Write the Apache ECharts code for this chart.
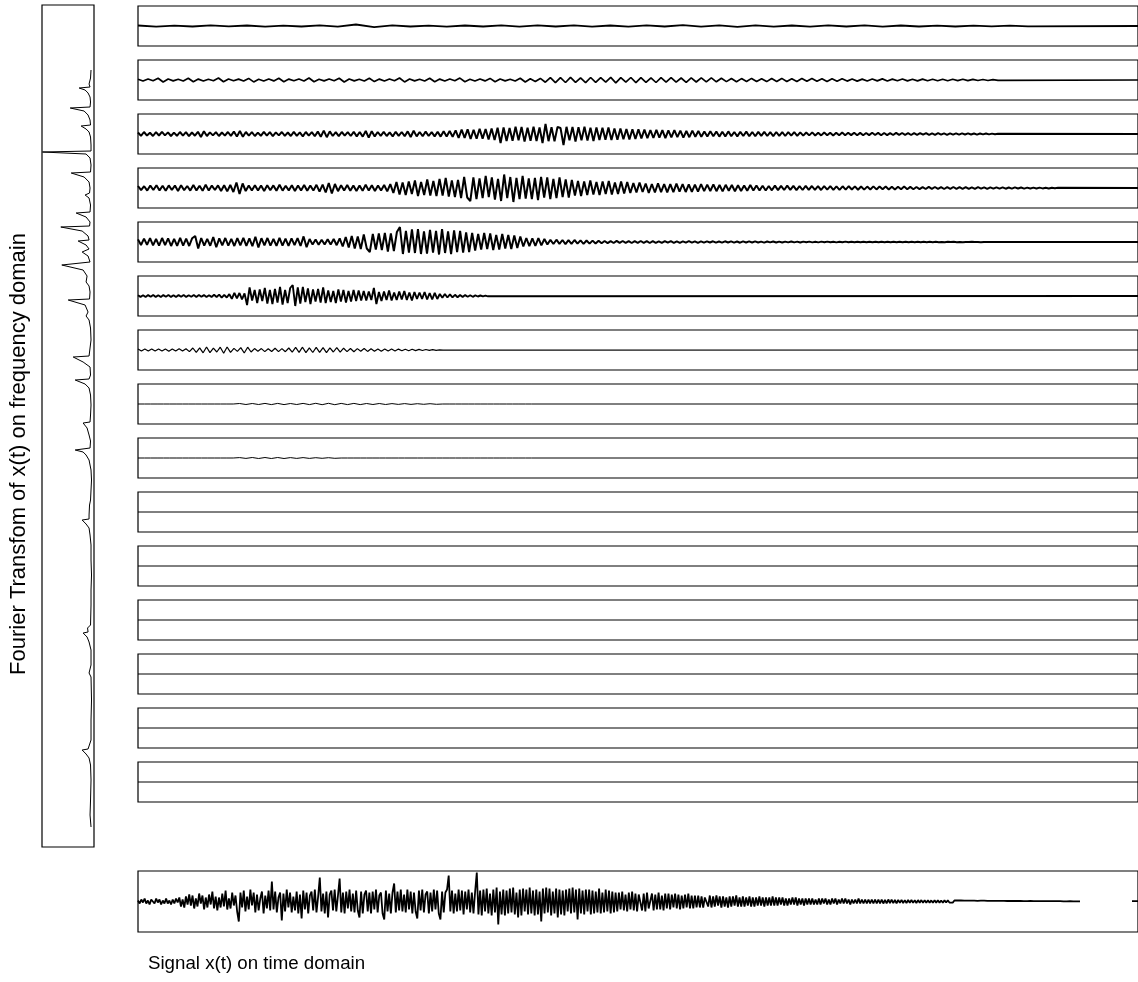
<!DOCTYPE html>
<html>
<head>
<meta charset="utf-8">
<script src="https://cdn.jsdelivr.net/npm/echarts@6/dist/echarts.min.js"></script>
<style>
  html, body { margin: 0; padding: 0; background: #fff; }
  #chart { width: 1138px; height: 982px; }
</style>
</head>
<body>
<div id="chart"></div>
<script>
// time axis of all panels (s), frequency axis of the spectrum (Hz)
const TIME_MAX = 100;
const FREQ_MAX = 42.1;

// band-filtered components, top (high frequency) to bottom, sampled evenly over [0, span]
const band1 = [0.5,-0.6,0.4,-0.5,0.7,-0.4,0.5,-0.6,0.4,-0.5,0.6,-0.7,1.5,-1.2,0.6,-0.5,0.4,-0.6,0.5,-0.5,0.6,-0.7,0.6,-0.5,0.7,-0.6,0.5,-0.7,0.6,-0.5,0.8,-0.6,0.7,-0.8,0.6,-0.7,0.5,-0.6,0.6,-0.5,0.7,-0.6,0.5,-0.5,0.4,-0.5,0.4,-0.3,0.3,-0.3];
const band2 = [0.8,-1,1,-0.8,1.8,-2,1,-0.9,0.8,-1,1.7,-1.8,0.9,-1,0.8,-0.7,2,-1.8,1,-0.8,
  0.9,-1,1.6,-1.9,0.8,-1,1,-0.9,1.8,-1.7,0.9,-0.8,1,-1,2,-1.8,0.8,-0.9,1,-0.8,
  1.7,-2,1,-0.9,0.8,-1,1.8,-1.6,0.9,-1,1,-0.8,2,-1.9,1,-0.9,0.8,-1,1.7,-1.8,
  0.9,-1,1,-0.8,1.9,-1.7,0.8,-1,1,-0.9,1.6,-1.8,1,-0.9,0.8,-1,1.8,-2,1.2,-1.4,1.6,
  -2.2,2.4,-2.6,2.3,-2.5,2.7,-2.4,2.2,-2.6,2.5,-2.3,2.4,-2.1,2.6,-2.8,2.4,-2.2,2.5,-2.6,2.3,
  -2.4,2.2,-2.5,2.3,-2.1,2.4,-2.2,2.0,-2.3,2.1,-2.0,2.2,-1.9,2.1,-1.8,
  1.7,-1.6,1.5,-1.7,1.4,-1.5,1.6,-1.4,1.3,-1.6,1.5,-1.4,1.6,-1.5,1.3,-1.4,1.5,-1.3,1.4,-1.2,1.3,-1.4,1.2,-1.3,1.2,-1.1,
  1.0,-1.1,0.9,-1.0,1.0,-0.9,1.1,-1.0,0.9,-0.8,1.0,-0.9,0.8,-0.9,0.9,-0.8,0.7,-0.8,0.8,-0.7,0.7,-0.6,0.7,-0.6,0.6,-0.5,0.5,-0.5,0.4,-0.3];
const band3 = [1.5,-1.8,2,-1.6,1.2,-2,1.8,-1.5,2.2,-1.4,1.6,-2,1.4,-1.8,2,-1.6,1.8,-2.2,1.5,-1.7,
  2.2,-3,2.8,-2,1.6,-1.4,1.8,-2,1.5,-1.6,2,-1.8,2.4,-2.6,3,-2.8,2,-1.6,1.8,-2,
  1.4,-1.8,2.2,-1.6,1.8,-2.2,1.6,-1.4,2,-1.8,1.5,-2,2.2,-1.8,1.6,-2.4,2,-1.6,1.8,-2.2,
  2.4,-2.8,3.4,-3.2,2.6,-2,1.8,-2.2,2,-1.6,1.8,-2,2.2,-2.4,2,-2.6,3,-3.6,2.8,-2.4,
  2,-1.8,2.2,-2,1.6,-2.4,2.2,-1.8,2,-2.2,2.6,-3,3.2,-2.4,2,-2.2,2.4,-2,1.8,-2.4,
  2.2,-2.6,2.8,-2.4,3,-2.8,
  3.6,-4,4.4,-3.8,4.6,-5,4.2,-4.8,5.2,-4.6,5,-5.6,5.4,-6,6.2,
  -9,6.5,-7,6,-6.8,7.2,-6.4,7,-7.6,6.2,-6.8,7.4,-7,6.6,-9,10,-7.2,6.8,-7.4,7,6,-11,
  7.2,-6.4,7,-7.6,6.8,-6.2,7.4,-6.6,6.4,-7,6.6,-6,6.2,-5.8,6.4,-6,5.6,-5.8,5.4,-5.2,
  5,-5.4,4.8,-5,4.6,-4.4,
  4.4,-4.2,3.8,-4,4.2,-3.6,3.8,-4.2,3.6,-3.4,3.8,-3.2,3.4,-3.6,3,-3.2,3.4,-2.8,3,-2.8,
  2.6,-2.4,2.8,-2.2,2.4,-2.6,2.2,-2.4,2.6,-2.2,2,-2.4,2.2,-2,2.4,-2.2,2,-2.3,2.1,-1.9,
  2.2,-2,1.8,-2.1,2,-1.8,1.9,-2,1.8,-1.7,1.9,-1.8,1.7,
  -1.6,1.5,-1.4,1.6,-1.5,1.3,-1.4,1.5,-1.3,1.2,-1.4,1.3,-1.2,1.4,-1.3,1.2,-1.1,1.3,-1.2,1.1,
  -1.2,1.0,-1.1,1.2,-1.0,1.1,-1.2,1.0,-1.1,0.9,-1.0,1.1,-0.9,
  1.0,-0.9,0.8,-1.0,0.9,-0.8,0.9,-0.7,0.8,-0.9,0.7,-0.8,0.8,-0.7,0.6,-0.8,0.7,-0.6,0.7,-0.6,
  0.6,-0.5,0.6,-0.5,0.5,-0.6,0.5,-0.4,0.5,-0.4,0.4,-0.3,0.3];
const band4 = [2,-2.2,1.8,-2.6,2.4,-2,2.8,-2.4,2.2,-2.8,2.6,-2,2.4,-3,2.8,-2.2,2,-2.6,3,-2.4,
  2.2,-2.8,3.2,-2.6,2.4,-2,2.6,-3,2.8,-3.4,3,-4,5.5,-6,4.5,-3,2.6,-2.4,2.8,-2.6,
  2.4,-3,2.8,-2.2,2.6,-2.8,3.2,-2.6,2.2,-2.4,2.8,-3,2.6,-2.4,3,-2.8,2.4,-2.6,3.2,-3.6,
  3.4,-4.5,5,-5.5,4,-3.2,2.8,-2.6,3,-2.8,2.6,-3,2.4,-2.8,3.2,-2.6,2.8,-3,2.6,-2.4,
  3,-3.4,3.8,
  -5,6,-6.5,5.5,-7,6.5,-6,7.5,-8,6,-7,8.5,-7.5,7,-8,9,-7.5,10,-8.5,7.5,-9,8,
  -10,11,-9.5,-13,10.5,-11,9.5,-10,12,-9,10.5,-11.5,9,-13,13.5,-10,11,-14,10,-11,
  12,-10.5,9.5,-11,10,-12,11,-9.5,10.5,-11,9,-10,10.5,-9,8.5,-9.5,
  8,-7.5,7,-8,6.5,-7,7.5,-6.5,6,-7,6.5,-6,7,-6.5,5.5,-6,6.5,-5.5,6,-5,
  5,-4.5,5.5,-4,4.5,-5,4,-4.5,4.8,-4.2,4,-4.4,3.8,-4.2,4.4,-3.6,3.8,-4,3.6,-3.8,
  3.4,-3.6,3.8,-3.2,3.4,-3,3.6,-3.2,3,-3.4,3.2,-2.8,3,-3.2,2.8,-3,2.6,-2.8,3,-2.6,
  2.6,-2.4,2.2,-2.5,2,-2.3,2.4,-2.1,2.2,-2,2.3,-1.9,2.1,-2.2,1.9,-2,2.1,-1.8,2,-1.9,
  1.8,-2,1.9,-1.7,1.8,-1.9,1.6,-1.8,1.7,-1.6,1.8,-1.5,1.6,-1.7,1.5,-1.6,1.4,-1.5,1.6,-1.4,
  1.5,-1.3,1.4,-1.5,1.3,-1.4,1.2,-1.3,1.4,-1.2,
  1.1,-1.2,1,-1.1,0.9,-1,1.1,-0.9,1,-0.9,0.9,-1,0.8,-0.9,1,-0.8,0.9,-0.8,0.8,-0.9,
  0.7,-0.8,0.8,-0.7,0.7,-0.8,0.6,-0.7,0.7,-0.6,0.6,-0.7,0.5,-0.6,0.6,-0.5,0.5,-0.6,0.4,-0.5,
  0.4,-0.5,0.4,-0.4,0.3,-0.4,0.3,-0.3,0.2];
const band5 = [2.6,-3,3.4,-2.8,3.8,-3.4,3,-3.6,4,-3.2,3.6,-4,3.2,-3.8,4.2,-3.6,3.4,-4,3.8,6,
  -6.5,4,-3.6,3.2,-3.8,5,-5.2,3.6,-3.4,4,-3.6,3.2,-4,3.8,-3.4,4.2,-3.8,3.6,-4.2,5.2,
  -5.4,3.8,-3.4,4,-3.6,3.2,-3.8,4.2,-3.6,3.4,-3.8,3.6,-3.2,3.8,
  -4,5.6,-5.2,3,-2.6,2.4,-2.8,2.2,-2.4,2.8,-2.6,3,-3.2,3.6,
  -4.5,5,-5.5,6,-6.5,5.5,-7,7.5,-6.5,-10,8,-7.5,8.5,-8,9,-9.5,8.5,-9,
  10,15,-12,11,-10.5,12.5,-11,13,-12,10.5,-11.5,12,-10.5,11,-12.5,13,-11,10.5,-12,11.5,
  -10,11,-10.5,9.5,-10,
  9,-8.5,8,-7.5,9,-7,8.5,-8,7,-7.5,8,-6.5,7,-7,6.5,-6,5.5,
  -4.5,4,-4.2,3.6,-4,3.8,-3.4,3,
  -2.4,2.2,-2,2.3,-1.8,2,-2.1,1.8,-1.9,2,-1.7,1.6,-1.8,1.5,-1.6,1.4,-1.5,1.3,
  -1.2,1,-1.1,0.9,-1,1.1,-0.9,1,-0.8,0.9,-1,0.8,-0.9,1,-0.8,0.9,-1,0.8,-0.9,0.7,
  -0.8,0.9,-0.7,0.8,-0.9,0.7,-0.8,0.6,-0.7,0.8,-0.6,0.7,-0.8,0.6,-0.7,0.6,-0.5,0.7,-0.6,0.5,
  -0.6,0.7,-0.5,0.6,-0.6,0.5,-0.7,0.6,-0.5,0.6,-0.5,0.6,-0.5,0.4,-0.6,0.5,-0.4,0.5,-0.5,0.4,
  -0.5,0.4,-0.4,0.5,-0.4,0.4,-0.5,0.4,-0.3,0.4,-0.4,0.3,-0.4,0.4,-0.3,0.4,-0.3,0.3,-0.4,0.3,
  -0.3,0.4,-0.3,0.3,-0.3,0.3,-0.2,0.3,-0.3,0.2,-0.3,0.2,-0.3,0.3,-0.2,0.3,-0.2,0.2,-0.3,0.2,
  -0.2,0.3,-0.2,0.2,-0.2,0.2,-0.3,0.2,-0.2,0.2,-0.2,0.2,-0.2,0.1,-0.2,0.2,-0.1,0.2,-0.2,0.1,
  -0.2,0.1,-0.1,0.2,-0.1,0.1,-0.2,0.1,-0.1,0.1,-0.1,0.1,-0.1,0.1,-0.1,0.1];
const band6 = [0.8,-0.9,0.7,-1,0.9,-0.8,1.1,-0.9,0.8,-1,0.9,-0.7,1,-0.9,0.8,-1.1,0.9,-0.8,1,-0.9,
  0.7,-0.8,1,-0.9,1.1,-0.8,0.9,-1,0.8,-0.9,1.2,-1,1.4,-1.6,1.2,-1.5,1.8,
  -2.8,3.2,-2.4,3,-3.4,2.6,-9,8.5,
  -4.5,6,-7,6.5,-5,8,-7.5,6,-8,7,-6.5,9,-8.5,6,-7,8,11,-10,8.5,-7.5,
  9,-6,7.5,-8,6.5,-5.5,7,-6.5,8.5,-7,5.5,-6,5,-7,6.5,-5.5,6,-6.5,5,-5.5,6,-5,5.5,-4.5,5,-4.5,
  4.5,-4,8,-8,4,-5,4.5,-4,5.5,-4.5,3.5,-4,4.5,-3.5,5,-4,3.5,-4.5,4,-3,3.5,-3,4,-3.5,3,-3.5,
  3.2,-3,2,-1.8,2,-1.5,1.6,-1.4,1.2,-1.3,1,-1.1,0.9,-0.8,0.7,-0.8,0.6,-0.5,0.5,-0.4,0.4,-0.3];
const band7 = [1,-1.1,1,-0.9,1.1,-1,0.9,-1.1,1,-1.2,1.1,-1,1.2,-1.1,1.3,
  -1.6,2,-2.4,2.2,-2.8,3,-2.6,1.8,-2,2.8,-3.2,3,-2.4,1.6,-1.4,2.4,-3,2.8,-2,1.4,
  -1.2,1.4,-1.6,1.3,-1.5,1.8,-1.6,1.4,-1.7,2,
  -2.2,2.6,-2.4,2.8,-2.6,2.2,-2.5,2.7,-2.3,2.4,-2.6,2.2,-2,2.4,-2.2,1.8,
  -1.6,1.5,-1.7,1.4,-1.3,1.5,-1.4,1.2,-1.3,1.1,-1.2,1,-1.1,0.9,-1,
  0.9,-0.8,0.8,-0.7,0.7,-0.6,0.6,-0.5,0.5,-0.4,0.4,-0.3,0.2,-0.1];
const band8 = [0,0,0,0,0,0,0,0,0,0,0,0,0,0,0,0,
  0.5,-0.5,0.5,-0.5,0.6,-0.6,0.6,-0.6,0.5,-0.5,0.6,-0.6,0.7,-0.7,0.7,-0.7,
  0.6,-0.6,0.6,-0.6,0.5,-0.5,0.5,-0.5,0.4,-0.4,0.4,-0.4,0.3,-0.3,0.3,-0.3,
  0,0,0,0,0,0,0,0,0,0,0,0,0,0,0,0];
const band9 = [0,0,0,0,0,0,0,0,0,0,0,0,0,0,0,0,
  0.4,-0.4,0.5,-0.5,0.5,-0.5,0.5,-0.5,0.4,-0.4,0.4,-0.4,0.3,-0.3,0.3,-0.3,
  0,0,0,0,0,0,0,0,0,0,0,0,0,0,0,0,
  0,0,0,0,0,0,0,0,0,0,0,0,0,0,0,0];
const band10 = [0, 0];
const band11 = [0, 0];
const band12 = [0, 0];
const band13 = [0, 0];
const band14 = [0, 0];
const band15 = [0, 0];
const bandSpans = [89, 86, 86, 92, 87, 35, 30.5, 40, 40, 100, 100, 100, 100, 100, 100];

// full signal x(t), sampled evenly over [0, signalSpan], plus the short piece at the end
const signal = [1,-2,2,-1,3,-2,1,-3,2,0,-2,3,-1,2,-3,1,-2,3,-2,1,
  -3,2,-2,3,-1,4,-5,2,-6,5,-3,7,-4,6,-7,3,-5,8,-2,6,
  -8,4,-6,7,-3,10,-7,5,-9,4,-6,8,-5,11,-8,3,-7,9,-4,6,-10,
  -20,
  9,-6,11,-10,5,-8,12,-4,9,-11,7,-9,3,10,-12,6,-7,11,-9,20,
  -8,10,-11,4,9,-19,8,-10,12,-6,9,-11,5,-9,10,-12,7,-17,11,-8,
  9,-12,6,10,-9,12,-11,5,24,-10,8,-12,10,-16,7,11,-9,12,-10,6,
  23,-11,9,-12,10,-7,12,-10,8,-11,11,-9,-16,10,-12,7,11,-10,9,-12,
  10,-8,12,-11,6,9,-12,-18,11,-10,8,-12,9,18,-11,10,-9,12,-10,7,
  -11,12,-8,10,-12,9,-10,-17,11,-9,12,-11,7,10,-12,9,-10,12,-8,11,
  -12,-18,10,-11,9,12,26,-10,11,-12,8,-10,12,-9,11,-13,10,-8,12,-11,
  9,-12,10,29,
  -13,11,-14,12,-10,13,-12,8,-14,12,-11,14,-23,10,-13,12,-14,11,-12,13,
  -11,14,-13,9,-16,12,-14,13,-10,12,-13,14,-12,11,-14,12,-13,10,-20,13,
  -12,14,-11,13,-14,10,-12,13,-16,12,-13,11,-14,12,-10,13,-12,14,-11,12,
  -18,13,-12,11,-13,12,-10,12,-13,11,-12,10,-11,13,-12,9,-11,12,-10,11,-12,10,-11,9,
  -10,9,-8,10,-9,7,-10,9,-8,10,-9,8,-10,7,9,-9,8,-10,9,-7,
  -9,8,-9,7,-8,9,-8,6,-9,8,-7,8,-8,7,-6,8,-7,7,-8,6,
  -7,7,-6,8,-7,6,-7,6,-6,
  6,-6,5,-6,4,6,-5,6,-6,5,-5,6,-4,5,-6,5,-5,4,-6,5,
  -5,5,-4,6,-5,4,-5,5,-5,4,-4,5,-5,4,-5,4,-4,5,-4,4,
  -5,4,-4,4,-4,5,-4,4,
  -4,4,-3,4,-4,3,-4,3,-3,4,-3,4,-4,3,-3,3,-4,3,-3,3,
  -3,3,-3,2,-3,3,-3,3,-2,3,-3,2,-3,3,-2,3,-3,2,-2,3,
  -2,3,-2,2,-3,2,-2,2,-2,3,-2,2,-2,2,-2,2,-2,2,-2,2,-2,
  2,-2,1.8,-2,1.6,-1.8,2,-1.6,1.8,-1.6,1.5,-1.8,1.6,-1.4,1.7,-1.5,1.4,-1.6,1.5,-1.3,
  1.5,-1.4,1.3,-1.5,1.4,-1.2,1.4,-1.3,1.2,-1.3,1.3,-1.2,1.1,-1.3,1.2,-1.1,1.2,-1.1,1,-1.2,
  1.1,-1,1.1,-1,1,-1.1,1,-0.9,
  1,-0.9,1,-0.8,0.9,-1,0.8,-0.9,0.9,-0.8,0.8,-0.9,0.7,-0.8,0.8,-0.7,0.8,-0.7,0.6,-0.8,
  0.7,-0.6,0.7,-0.7,0.6,-0.6,0.7,-0.5,0.6,-0.6,0.5,-0.6,0.5,-0.5,0.6,-0.5,0.5,-0.4,0.5,-0.5,
  0.4,-0.5,0.4,-0.4,0.5,-0.4,0.4,-0.4,0.3,-0.4,0.4,-0.3,0.4,-0.3,0.3,-0.3,0.4,-0.3,0.3,-0.3,
  0.3,-0.2,0.3,-0.3,0.2,-0.3,0.2,-0.2,0.3,-0.2,0.2,-0.2,0.2,-0.2,0.2];
const signalSpan = 94.2;
const signalTailTimes = [99.4, 100];
const signalTail = [0.3, 0.3];

// spectrum |X(f)|, frequency (Hz) and relative amplitude
const fftFreq = [38.85,38.45,38.15,38.0,37.95,37.85,37.7,37.5,37.25,37.0,36.95,36.8,36.6,36.35,36.1,36.05,35.9,35.75,35.65,35.5,35.1,34.8,34.75,34.65,34.45,34.1,
  33.75,33.7,33.5,33.25,32.95,32.7,32.6,32.45,32.1,31.75,31.7,31.5,31.25,31.05,31.0,30.8,30.55,30.35,30.3,30.1,29.9,29.75,29.55,29.25,29.1,28.85,28.55,28.25,28.05,
  27.75,27.4,27.35,27.1,26.75,26.55,26.35,25.95,25.35,24.95,24.55,24.5,24.25,24.0,23.6,23.4,23.35,23.15,22.95,22.6,22.1,21.6,21.25,21.2,20.95,20.6,20.3,
  19.95,19.85,19.75,19.6,19.35,18.85,18.35,17.85,17.35,17.1,16.6,16.4,16.35,16.15,15.95,15.6,15.1,14.35,13.6,12.85,12.1,11.1,10.95,10.75,10.7,10.5,10.25,
  9.85,9.1,8.7,8.5,7.35,6.35,5.35,5.05,4.9,4.85,4.65,4.45,4.1,3.35,2.35,1.6,1.0];
const fftAmp = [1,2,5,3,25,13,7,3,2,3,43,15,7,3,2,21,11,5,6,2,1,1,99,11,3,1,
  2,41,15,5,3,4,13,5,2,3,31,11,3,4,62,19,7,5,27,11,5,19,7,3,60,17,9,11,5,
  3,4,47,13,7,11,5,2,1,3,5,37,17,3,2,5,33,13,5,2,1,2,3,17,9,5,2,
  3,33,17,11,5,1,0,1,2,4,5,5,19,11,5,3,1,1,0,1,1,2,8,7,17,9,5,
  1,1,5,1,0,1,1,5,7,19,11,5,2,1,2,3,1];

const chart = echarts.init(document.getElementById('chart'));

const bands = [band1, band2, band3, band4, band5, band6, band7, band8,
  band9, band10, band11, band12, band13, band14, band15];
// the dense traces are drawn heavier so they read as solid as in the original
const bandWidths = [1.8, 1.7, 2, 2, 2, 1.9, 1.2, 1, 1, 1, 1, 1, 1, 1, 1];

// evenly spaced samples -> [t, value]
function toTimeData(values, span) {
  const step = span / (values.length - 1);
  const pts = values.map((v, i) => [i * step, v]);
  if (span < TIME_MAX) pts.push([TIME_MAX, 0]);
  return pts;
}

const grids = [];
const xAxes = [];
const yAxes = [];
const series = [];
const frame = { show: true, borderColor: '#000', borderWidth: 1.2 };

bands.forEach((vals, i) => {
  grids.push(Object.assign({ left: 138, top: 6 + 54 * i, width: 1005, height: 40 }, frame));
  xAxes.push({ gridIndex: i, type: 'value', min: 0, max: TIME_MAX, show: false });
  yAxes.push({ gridIndex: i, type: 'value', min: -20, max: 20, show: false });
  series.push({ type: 'line', xAxisIndex: i, yAxisIndex: i, data: toTimeData(vals, bandSpans[i]),
    showSymbol: false, silent: true,
    lineStyle: { color: '#000', width: bandWidths[i] } });
});

// the signal panel
const sigIdx = bands.length;
const sigData = toTimeData(signal, signalSpan).slice(0, signal.length);
sigData.push([signalSpan + 1, '-']);
signalTailTimes.forEach((t, i) => sigData.push([t, signalTail[i]]));
grids.push(Object.assign({ left: 138, top: 871, width: 1005, height: 61 }, frame));
xAxes.push({ gridIndex: sigIdx, type: 'value', min: 0, max: TIME_MAX, show: false });
yAxes.push({ gridIndex: sigIdx, type: 'value', min: -30.5, max: 30.5, show: false });
series.push({ type: 'line', xAxisIndex: sigIdx, yAxisIndex: sigIdx, data: sigData,
  showSymbol: false, connectNulls: false, silent: true,
  lineStyle: { color: '#000', width: 1.8 } });

// the spectrum panel, amplitude grows to the left
const fftIdx = sigIdx + 1;
grids.push(Object.assign({ left: 42, top: 5, width: 52, height: 842 }, frame));
xAxes.push({ gridIndex: fftIdx, type: 'value', min: -5, max: 100, inverse: true, show: false });
yAxes.push({ gridIndex: fftIdx, type: 'value', min: 0, max: FREQ_MAX, show: false });
series.push({ type: 'line', xAxisIndex: fftIdx, yAxisIndex: fftIdx,
  data: fftFreq.map((f, i) => [fftAmp[i], f]),
  showSymbol: false, silent: true, lineStyle: { color: '#000', width: 1 } });

chart.setOption({
  animation: false,
  backgroundColor: '#fff',
  grid: grids,
  xAxis: xAxes,
  yAxis: yAxes,
  series: series,
  graphic: [
    { type: 'text', x: 19, y: 454, rotation: Math.PI / 2,
      style: { text: 'Fourier Transfom of x(t) on frequency domain', fill: '#000',
        font: '22px "Liberation Sans", Arial, sans-serif', align: 'center', verticalAlign: 'middle' } },
    { type: 'text', x: 148, y: 964,
      style: { text: 'Signal x(t) on time domain', fill: '#000',
        font: '18.7px "Liberation Sans", Arial, sans-serif', align: 'left', verticalAlign: 'middle' } }
  ]
});
window.addEventListener('resize', () => chart.resize());
</script>
</body>
</html>
